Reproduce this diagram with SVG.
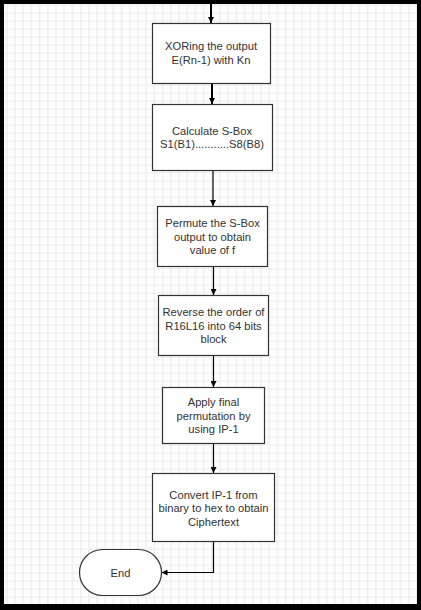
<svg xmlns="http://www.w3.org/2000/svg" width="421" height="610" viewBox="0 0 421 610">
  <style>
    .box { fill: #ffffff; stroke: #333333; stroke-width: 1.2; }
    .lbl { font-family: "Liberation Sans", Arial, sans-serif; font-size: 11.2px; fill: #333333; text-anchor: middle; }
    .conn { fill: none; stroke: #000000; stroke-width: 1.2; }
    .thick { stroke-width: 2; }
  </style>
  <defs>
    <pattern id="grid" x="6" y="4.3" width="8.2" height="8" patternUnits="userSpaceOnUse">
      <rect width="8.2" height="8" fill="#ffffff"/>
      <rect x="0" y="0" width="1.5" height="8" fill="#efefef"/>
      <rect x="0" y="0" width="8.2" height="1.5" fill="#efefef"/>
    </pattern>
    <marker id="arr" viewBox="0 0 10 10" refX="10" refY="5" markerWidth="6" markerHeight="6" markerUnits="userSpaceOnUse" orient="auto">
      <path d="M0,0 L10,5 L0,10 z" fill="#000000"/>
    </marker>
  </defs>

  <rect x="0" y="0" width="421" height="610" fill="#000000"/>
  <rect x="4" y="4" width="413" height="600" fill="url(#grid)"/>

  <g id="connectors">
    <line class="conn thick" x1="211" y1="4" x2="211" y2="23" marker-end="url(#arr)"/>
    <line class="conn thick" x1="212" y1="83" x2="212" y2="104" marker-end="url(#arr)"/>
    <line class="conn" x1="213" y1="171" x2="213" y2="206" marker-end="url(#arr)"/>
    <line class="conn" x1="213.5" y1="267" x2="213.5" y2="295" marker-end="url(#arr)"/>
    <line class="conn" x1="213.5" y1="356" x2="213.5" y2="387" marker-end="url(#arr)"/>
    <line class="conn" x1="213.5" y1="443" x2="213.5" y2="473" marker-end="url(#arr)"/>
    <polyline class="conn" points="213.5,542 213.5,572.5 161.5,572.5" marker-end="url(#arr)"/>
  </g>

  <g id="xor">
    <rect class="box" x="152.5" y="23.5" width="118" height="60"/>
    <text class="lbl" x="211" y="50">XORing the output</text>
    <text class="lbl" x="211" y="63.5">E(Rn-1) with Kn</text>
  </g>

  <g id="sbox">
    <rect class="box" x="152.5" y="104.5" width="120" height="66"/>
    <text class="lbl" x="212" y="134.5">Calculate S-Box</text>
    <text class="lbl" x="212" y="147.5">S1(B1)...........S8(B8)</text>
  </g>

  <g id="permute">
    <rect class="box" x="157.5" y="206.5" width="110" height="60"/>
    <text class="lbl" x="212.5" y="227">Permute the S-Box</text>
    <text class="lbl" x="212.5" y="240.5">output to obtain</text>
    <text class="lbl" x="212.5" y="254">value of f</text>
  </g>

  <g id="reverse">
    <rect class="box" x="158.5" y="295.5" width="110" height="60"/>
    <text class="lbl" x="213.5" y="316">Reverse the order of</text>
    <text class="lbl" x="213.5" y="329.5">R16L16 into 64 bits</text>
    <text class="lbl" x="213.5" y="343">block</text>
  </g>

  <g id="final">
    <rect class="box" x="162.5" y="387.5" width="102" height="56"/>
    <text class="lbl" x="213.5" y="406">Apply final</text>
    <text class="lbl" x="213.5" y="419.5">permutation by</text>
    <text class="lbl" x="213.5" y="433">using IP-1</text>
  </g>

  <g id="convert">
    <rect class="box" x="152.5" y="473.5" width="122" height="68"/>
    <text class="lbl" x="213.5" y="498.5">Convert IP-1 from</text>
    <text class="lbl" x="213.5" y="512">binary to hex to obtain</text>
    <text class="lbl" x="213.5" y="525.5">Ciphertext</text>
  </g>

  <g id="end">
    <rect class="box" x="79.5" y="549.5" width="82" height="46" rx="23" ry="23"/>
    <text class="lbl" x="120.5" y="576.5">End</text>
  </g>
</svg>
